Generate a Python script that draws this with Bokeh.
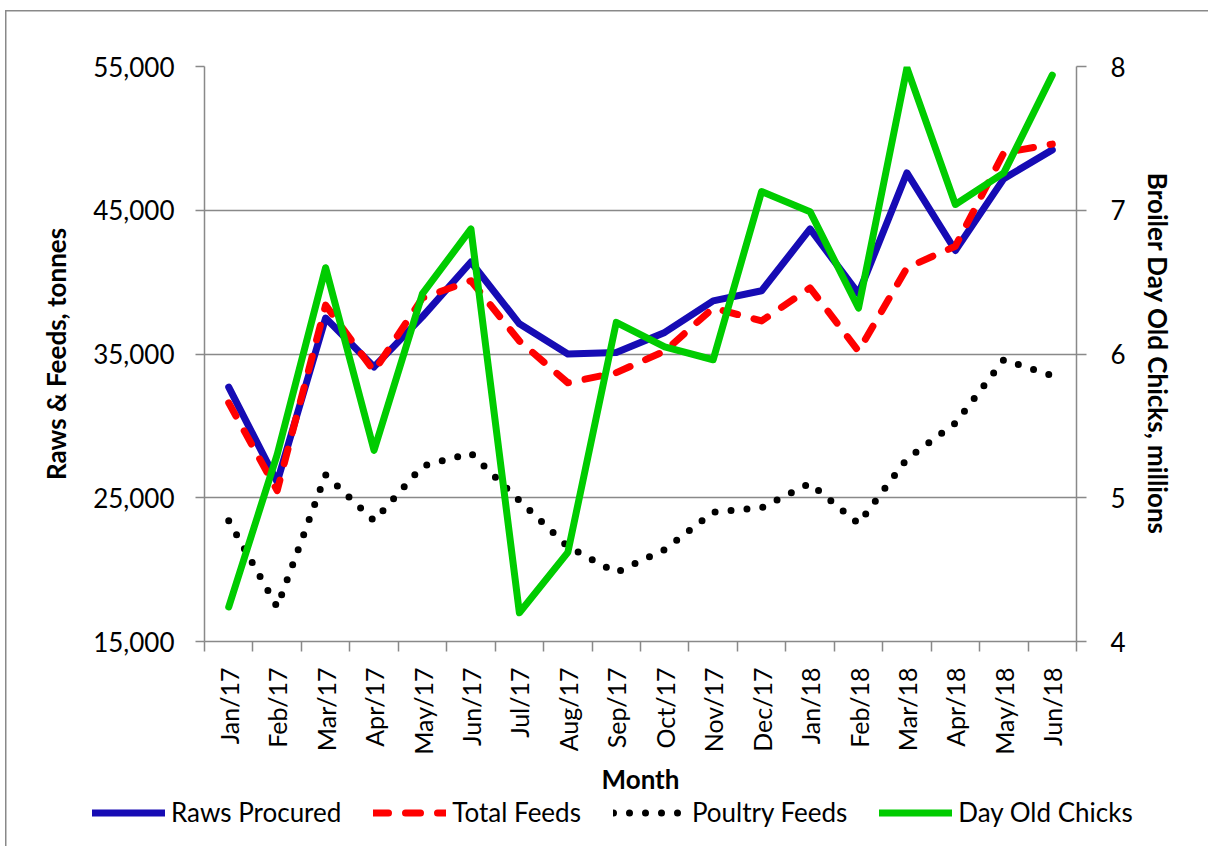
import math
from bokeh.plotting import figure
from bokeh.layouts import column
from bokeh.models import (Range1d, LinearAxis, FixedTicker, NumeralTickFormatter,
                          Legend, LegendItem, CustomJSTickFormatter, ColumnDataSource)
from bokeh.embed import file_html
from bokeh.resources import INLINE

months = ["Jan/17", "Feb/17", "Mar/17", "Apr/17", "May/17", "Jun/17", "Jul/17", "Aug/17",
          "Sep/17", "Oct/17", "Nov/17", "Dec/17", "Jan/18", "Feb/18", "Mar/18", "Apr/18",
          "May/18", "Jun/18"]
raws_procured = [32700, 26100, 37500, 34100, 37600, 41400, 37100, 35000, 35100, 36500,
                 38700, 39400, 43700, 39200, 47600, 42200, 47200, 49200]
total_feeds = [31600, 25500, 38400, 33800, 38900, 40100, 35900, 33000, 33700, 35200,
               38200, 37300, 39600, 35200, 41000, 42500, 49000, 49600]
poultry_feeds = [23400, 17400, 26600, 23400, 27200, 28100, 24800, 21600, 19800, 21400,
                 24000, 24300, 26000, 23200, 27700, 30200, 34600, 33500]
day_old_chicks = [4.24, 5.30, 6.60, 5.33, 6.42, 6.87, 4.20, 4.62, 6.22, 6.05,
                  5.96, 7.13, 6.99, 6.32, 7.99, 7.04, 7.26, 7.94]
left_ticks = [15000, 25000, 35000, 45000, 55000]
right_ticks = [4, 5, 6, 7, 8]
series_names = ["Raws Procured", "Total Feeds", "Poultry Feeds", "Day Old Chicks"]

FONT = "Lato"
GRAY = "#898989"
BLUE = "#160BB4"
RED = "#FF0000"
GREEN = "#00CC00"

styles = [
    dict(line_color=BLUE, line_width=7, line_join="round", line_cap="round"),
    dict(line_color=RED, line_width=7, line_dash="15 17", line_join="round", line_cap="round"),
    dict(line_color="black", line_width=7, line_dash="0 16", line_join="round", line_cap="round"),
    dict(line_color=GREEN, line_width=7, line_join="round", line_cap="round"),
]

n = len(months)
pos = [i + 0.5 for i in range(n)]
src = ColumnDataSource(dict(x=pos, raws=raws_procured, total=total_feeds,
                            poultry=poultry_feeds, chicks=day_old_chicks))

MAIN_H = 797
p = figure(width=1208, height=MAIN_H, output_backend="svg", toolbar_location=None,
           x_range=Range1d(0, n), y_range=Range1d(left_ticks[0], left_ticks[-1]),
           min_border_left=204, min_border_right=132, min_border_top=66,
           min_border_bottom=MAIN_H - 642, x_axis_label="Month",
           y_axis_label="Raws & Feeds, tonnes")
p.extra_y_ranges = {"chicks": Range1d(right_ticks[0], right_ticks[-1])}
p.outline_line_color = None
p.background_fill_color = "white"
p.border_fill_alpha = 0
p.frame_align = False

p.xgrid.visible = False
p.ygrid.grid_line_color = GRAY
p.ygrid.grid_line_width = 1.5

# left axis
ya = p.yaxis[0]
ya.ticker = FixedTicker(ticks=left_ticks)
ya.formatter = NumeralTickFormatter(format="0,0")
ya.axis_line_color = GRAY
ya.axis_line_width = 1.5
ya.major_tick_line_color = GRAY
ya.major_tick_line_width = 1.5
ya.major_tick_out = 9
ya.major_tick_in = 0
ya.minor_tick_line_color = None
ya.major_label_standoff = 21
ya.major_label_text_font = FONT
ya.major_label_text_font_size = "26px"
ya.major_label_text_color = "black"
ya.axis_label_text_font = FONT
ya.axis_label_text_font_size = "26px"
ya.axis_label_text_font_style = "bold"
ya.axis_label_text_color = "black"
ya.axis_label_standoff = 18

# bottom axis
xa = p.xaxis[0]
xa.ticker = FixedTicker(ticks=pos, minor_ticks=list(range(n + 1)))
xa.formatter = CustomJSTickFormatter(args=dict(labels=months),
                                     code="return labels[Math.floor(tick)] || ''")
xa.axis_line_color = GRAY
xa.axis_line_width = 1.5
xa.major_tick_out = 0
xa.major_tick_in = 0
xa.major_tick_line_color = None
xa.minor_tick_out = 10
xa.minor_tick_in = 0
xa.minor_tick_line_color = GRAY
xa.minor_tick_line_width = 1.5
xa.major_label_orientation = math.pi / 2
xa.major_label_standoff = 16
xa.major_label_text_font = FONT
xa.major_label_text_font_size = "25px"
xa.major_label_text_color = "black"
xa.axis_label_text_font = FONT
xa.axis_label_text_font_size = "26px"
xa.axis_label_text_font_style = "bold"
xa.axis_label_text_color = "black"
xa.axis_label_standoff = 5

# right axis
ra = LinearAxis(y_range_name="chicks", ticker=FixedTicker(ticks=right_ticks),
                axis_label="Broiler Day Old Chicks, millions")
ra.axis_line_color = GRAY
ra.axis_line_width = 1.5
ra.major_tick_line_color = GRAY
ra.major_tick_line_width = 1.5
ra.major_tick_out = 10
ra.major_tick_in = 0
ra.minor_tick_line_color = None
ra.major_label_standoff = 24
ra.major_label_text_font = FONT
ra.major_label_text_font_size = "26px"
ra.major_label_text_color = "black"
ra.axis_label_text_font = FONT
ra.axis_label_text_font_size = "26px"
ra.axis_label_text_font_style = "bold"
ra.axis_label_text_color = "black"
ra.axis_label_standoff = 13
p.add_layout(ra, "right")

p.line("x", "raws", source=src, **styles[0])
p.line("x", "total", source=src, **styles[1])
p.line("x", "poultry", source=src, **styles[2])
p.line("x", "chicks", source=src, y_range_name="chicks", **styles[3])

# legend strip below the chart (its own canvas, so the legend is not clipped)
LEG_H = 846 - MAIN_H
lf = figure(width=1208, height=LEG_H, output_backend="svg", toolbar_location=None,
            x_range=Range1d(0, 1), y_range=Range1d(0, 1),
            x_axis_type=None, y_axis_type=None,
            min_border_left=0, min_border_right=0, min_border_top=0, min_border_bottom=0)
lf.frame_align = False
lf.outline_line_color = None
lf.xgrid.visible = False
lf.ygrid.visible = False
lf.background_fill_alpha = 0
lf.border_fill_alpha = 0
# proxies for the legend glyphs, placed outside the visible range
leg_renderers = [lf.line(x=[-5, -4], y=[-5, -5], **st) for st in styles]

legend = Legend(items=[LegendItem(label=name, renderers=[r])
                       for name, r in zip(series_names, leg_renderers)],
                orientation="horizontal", location=(92, LEG_H - 31),
                glyph_width=73, glyph_height=31, label_height=31, label_standoff=6,
                spacing=32, padding=0, margin=0, border_line_color=None,
                background_fill_alpha=0, label_text_font=FONT,
                label_text_font_size="26px", label_text_color="black")
lf.add_layout(legend)

# thin gray chart-area border on the left and top edges (inset shadows, no layout impact)
layout = column(p, lf, spacing=0, styles={
    "background-color": "white",
    "box-shadow": "inset 5px 10px 0 0 white, inset 6.5px 11.5px 0 0 #898989",
})
open("out.html", "w").write(file_html(layout, INLINE))
